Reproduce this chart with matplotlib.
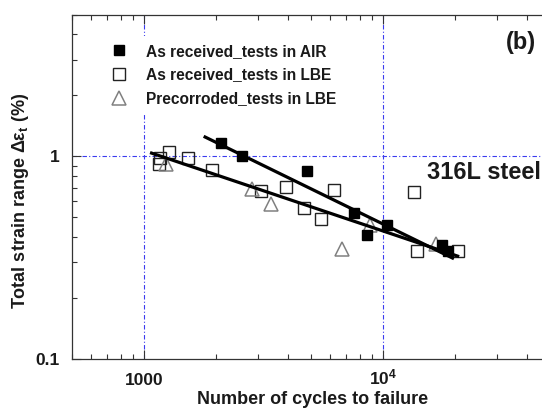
import matplotlib
matplotlib.use("Agg")
import matplotlib.pyplot as plt
from matplotlib.ticker import FixedLocator, LogLocator, NullFormatter
from matplotlib.transforms import ScaledTranslation

plt.rcParams["font.family"] = ["Liberation Sans", "DejaVu Sans"]
plt.rcParams["font.weight"] = "bold"
plt.rcParams["mathtext.fontset"] = "custom"
plt.rcParams["mathtext.rm"] = "Liberation Sans:bold"
plt.rcParams["mathtext.it"] = "Liberation Sans:bold"
plt.rcParams["mathtext.bf"] = "Liberation Sans:bold"

# data (cycles to failure, total strain range %)
air_n = [2100, 2570, 4800, 7600, 8550, 10450, 17600, 18700]
air_eps = [1.16, 1.00, 0.85, 0.526, 0.411, 0.459, 0.365, 0.342]

lbe_n = [1156, 1164, 1270, 1520, 1920, 3090, 3910, 4660, 5500, 6250, 13500, 13830, 20560]
lbe_eps = [0.92, 0.977, 1.046, 0.98, 0.855, 0.671, 0.705, 0.559, 0.49, 0.686, 0.666, 0.34, 0.34]

pre_n = [1240, 2820, 3400, 6730, 8830, 16660]
pre_eps = [0.913, 0.692, 0.579, 0.349, 0.46, 0.37]

# fitted lines (end points)
fit_air_n = [1800, 19570]
fit_air_eps = [1.246, 0.315]
fit_lbe_n = [1074, 20560]
fit_lbe_eps = [1.038, 0.322]

x_ticks = [1000, 1e4]
x_ticklabels = ["1000", r"$10^4$"]
y_ticks = [0.1, 1]
y_ticklabels = ["0.1", "1"]

txt = "#1a1a1a"
blue = "#3a3af0"

fig = plt.figure(figsize=(5.42, 4.09), dpi=100)
ax = fig.add_axes([0.1334, 0.1222, 1.0135, 0.8418])
ax.set_xscale("log")
ax.set_yscale("log")
ax.set_xlim(500, 1e5)
ax.set_ylim(0.1, 5)

# reference grid lines
for xv in x_ticks:
    ax.axvline(xv, color=blue, lw=0.8, ls=(0, (4, 2, 1, 2)), zorder=0)
ax.axhline(1, color=blue, lw=0.8, ls=(0, (4, 2, 1, 2)), zorder=0)

ax.plot(fit_air_n, fit_air_eps, color="black", lw=2.3, zorder=3)
ax.plot(fit_lbe_n, fit_lbe_eps, color="black", lw=2.3, zorder=3)

ax.plot(air_n, air_eps, ls="none", marker="s", ms=7.5, mfc="black", mec="black",
        label="As received_tests in AIR", zorder=4)
ax.plot(lbe_n, lbe_eps, ls="none", marker="s", ms=8, mfc="none", mec="#222222", mew=1.0,
        label="As received_tests in LBE", zorder=2)
ax.plot(pre_n, pre_eps, ls="none", marker="^", ms=9.5, mfc="none", mec="#808080", mew=1.1,
        label="Precorroded_tests in LBE", zorder=2)

ax.xaxis.set_major_locator(FixedLocator(x_ticks))
ax.set_xticklabels(x_ticklabels)
ax.xaxis.set_minor_locator(LogLocator(base=10, subs=range(2, 10)))
ax.xaxis.set_minor_formatter(NullFormatter())
ax.yaxis.set_major_locator(FixedLocator(y_ticks))
ax.set_yticklabels(y_ticklabels)
ax.yaxis.set_minor_locator(LogLocator(base=10, subs=range(2, 10)))
ax.yaxis.set_minor_formatter(NullFormatter())

ax.tick_params(which="both", direction="in", top=True, right=False, color="#333333",
               width=0.8, labelsize=12.5, labelcolor=txt)
ax.tick_params(which="major", length=6.5)
ax.tick_params(which="minor", length=3.6)
ax.tick_params(axis="x", pad=10)
ax.tick_params(axis="y", pad=9)
for s in ax.spines.values():
    s.set_linewidth(0.9)
    s.set_color("#333333")
ax.spines["right"].set_visible(False)

ax.set_xlabel("Number of cycles to failure", fontsize=13, fontweight="bold", color=txt)
ax.xaxis.set_label_coords(0.4377, -0.093)
ax.set_ylabel(r"Total strain range Δε$_t$ (%)", fontsize=13, fontweight="bold", color=txt)
ax.yaxis.set_label_coords(-0.075, 0.46)

leg = ax.legend(loc="upper left", bbox_to_anchor=(0.0575, 0.938), borderaxespad=0,
                numpoints=1, handlelength=1.0, handletextpad=1.2, labelspacing=0.56,
                borderpad=0.5, fontsize=11.2, frameon=True, fancybox=False,
                facecolor="white", edgecolor="none", framealpha=1)
for t in leg.get_texts():
    t.set_color(txt)
leg.set_zorder(5)

ax.text(0.645, 0.543, "316L steel", transform=ax.transAxes, fontsize=17,
        color=txt, ha="left", va="center")
ax.text(0.817, 0.918, "(b)", transform=ax.transAxes, fontsize=17,
        color=txt, ha="center", va="center")

# lift the 10^4 label so its digits sit on the same line as "1000"
fig.canvas.draw()
lab = ax.xaxis.get_major_ticks()[1].label1
lab.set_transform(lab.get_transform() + ScaledTranslation(0, 4 / 72, fig.dpi_scale_trans))

fig.savefig("out.png", dpi=100)
